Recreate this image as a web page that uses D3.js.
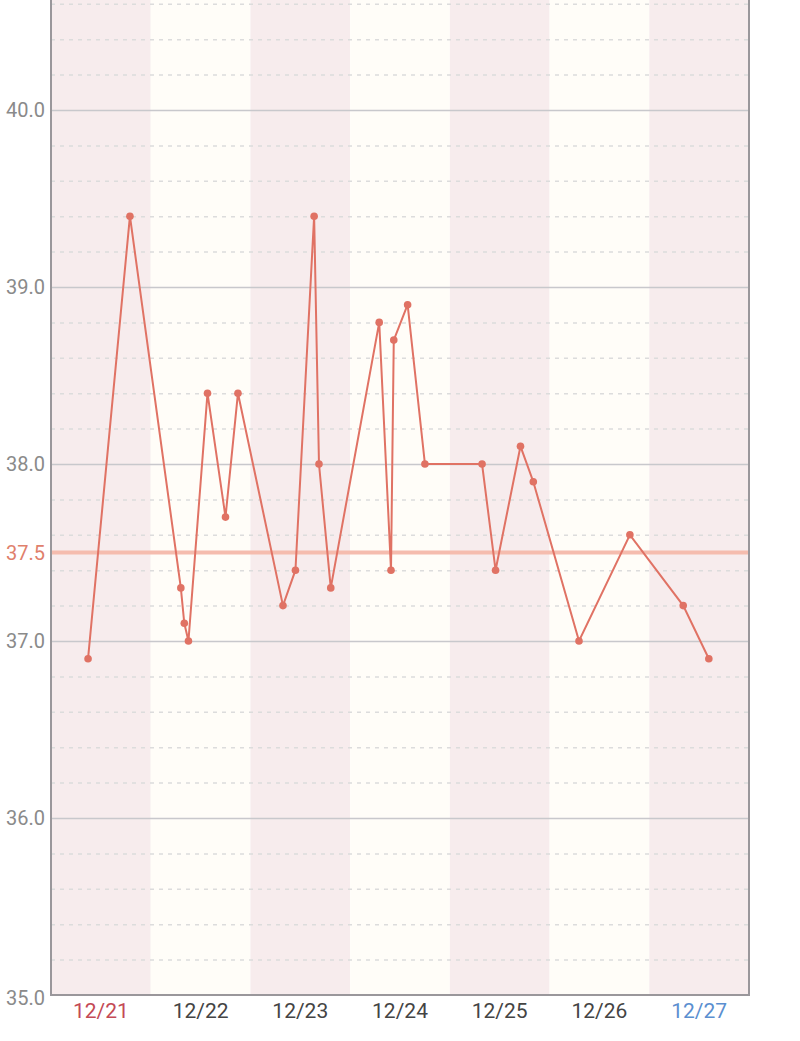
<!DOCTYPE html>
<html>
<head>
<meta charset="utf-8">
<script src="https://d3js.org/d3.v7.min.js"></script>
<style>
    body { margin: 0; background: #fff; }
    .minor line { stroke: #dcdcdc; stroke-dasharray: 4,5; stroke-width: 1.5; }
    .major line { stroke: #c8c8cc; stroke-width: 1.5; }
    .domain { display: none; }
</style>
</head>
<body>
<svg id="chart"></svg>
<script>
// day columns and labels
const days = ["12/21", "12/22", "12/23", "12/24", "12/25", "12/26", "12/27"];
const dayColors = ["#c44a55", "#444444", "#444444", "#444444", "#444444", "#444444", "#5b8fd0"];
const bandColors = ["#f7eced", "#fffdf8"];

// temperature readings (day, time, value)
const times = ["12/21 08:55", "12/21 19:00", "12/22 07:15", "12/22 08:05", "12/22 09:05",
               "12/22 13:40", "12/22 18:00", "12/22 21:00", "12/23 07:50", "12/23 10:50",
               "12/23 15:20", "12/23 16:30", "12/23 19:20", "12/24 07:00", "12/24 09:50",
               "12/24 10:30", "12/24 13:50", "12/24 18:00", "12/25 07:45", "12/25 11:00",
               "12/25 17:00", "12/25 20:05", "12/26 07:05", "12/26 19:20", "12/27 08:10",
               "12/27 14:20"];
const temps = [36.9, 39.4, 37.3, 37.1, 37.0, 38.4, 37.7, 38.4, 37.2, 37.4,
               39.4, 38.0, 37.3, 38.8, 37.4, 38.7, 38.9, 38.0, 38.0, 37.4,
               38.1, 37.9, 37.0, 37.6, 37.2, 36.9];

const yMajor = [35, 36, 37, 38, 39, 40, 41];
const threshold = 37.5;

const width = 800, height = 1041;
const margins = {left: 51, right: 51, bottom: 46};
const svg = d3.select("#chart").attr("width", width).attr("height", height);

const parse = d3.timeParse("%Y/%m/%d %H:%M");
const dayStart = days.map(d => parse("2020/" + d + " 00:00"));
const endDay = d3.timeDay.offset(dayStart[dayStart.length - 1], 1);

const x = d3.scaleTime()
            .domain([dayStart[0], endDay])
            .range([margins.left, width - margins.right]);
const y = d3.scaleLinear()
            .domain([35, 41])
            .range([height - margins.bottom, height - margins.bottom - 6 * 177]);

const plotTop = 0, plotBottom = height - margins.bottom;

// day bands
svg.append("g").selectAll("rect")
   .data(days)
   .join("rect")
   .attr("x", (d, i) => x(dayStart[i]))
   .attr("width", (d, i) => x(d3.timeDay.offset(dayStart[i], 1)) - x(dayStart[i]))
   .attr("y", plotTop)
   .attr("height", plotBottom - plotTop)
   .attr("fill", (d, i) => bandColors[i % 2]);

// minor dashed gridlines
const minorTicks = d3.range(35.2, 41, 0.2).filter(v => Math.abs(v - Math.round(v)) > 0.01);
svg.append("g")
   .attr("class", "minor")
   .attr("transform", `translate(${margins.left},0)`)
   .call(d3.axisLeft(y).tickValues(minorTicks).tickSize(-(width - margins.left - margins.right)).tickFormat(""));

// major gridlines
svg.append("g")
   .attr("class", "major")
   .attr("transform", `translate(${margins.left},0)`)
   .call(d3.axisLeft(y).tickValues(yMajor.slice(1)).tickSize(-(width - margins.left - margins.right)).tickFormat(""));

// threshold line
svg.append("line")
   .attr("x1", x.range()[0]).attr("x2", x.range()[1])
   .attr("y1", y(threshold)).attr("y2", y(threshold))
   .attr("stroke", "#f5bcae")
   .attr("stroke-width", 4);

// frame
svg.append("path")
   .attr("d", `M${x.range()[0]},${plotTop}V${plotBottom}H${x.range()[1]}V${plotTop}`)
   .attr("fill", "none")
   .attr("stroke", "#9a979b")
   .attr("stroke-width", 2);

// y labels
const yLabels = yMajor.concat([threshold]).filter(v => y(v) > 20);
svg.append("g").selectAll("text")
   .data(yLabels)
   .join("text")
   .attr("x", margins.left - 6)
   .attr("y", d => y(d))
   .attr("dy", d => d === 35 ? "0.52em" : "0.36em")
   .attr("text-anchor", "end")
   .attr("font-family", "Roboto, sans-serif")
   .attr("font-size", 20)
   .attr("fill", d => d === threshold ? "#e0806c" : "#8a8a8a")
   .text(d => d.toFixed(1));

// x labels
svg.append("g").selectAll("text")
   .data(days)
   .join("text")
   .attr("x", (d, i) => x(d3.timeHour.offset(dayStart[i], 12)))
   .attr("y", plotBottom + 23)
   .attr("text-anchor", "middle")
   .attr("font-family", "Roboto, sans-serif")
   .attr("font-size", 21)
   .attr("fill", (d, i) => dayColors[i])
   .text(d => d);

// data line
const points = times.map((t, i) => ({t: parse("2020/" + t), v: temps[i]}));
const lineGen = d3.line().x(d => x(d.t)).y(d => y(d.v));

svg.append("path")
   .attr("d", lineGen(points))
   .attr("fill", "none")
   .attr("stroke", "#e07264")
   .attr("stroke-width", 2);

svg.append("g").selectAll("circle")
   .data(points)
   .join("circle")
   .attr("cx", d => x(d.t))
   .attr("cy", d => y(d.v))
   .attr("r", 3.8)
   .attr("fill", "#e07264");
</script>
</body>
</html>
